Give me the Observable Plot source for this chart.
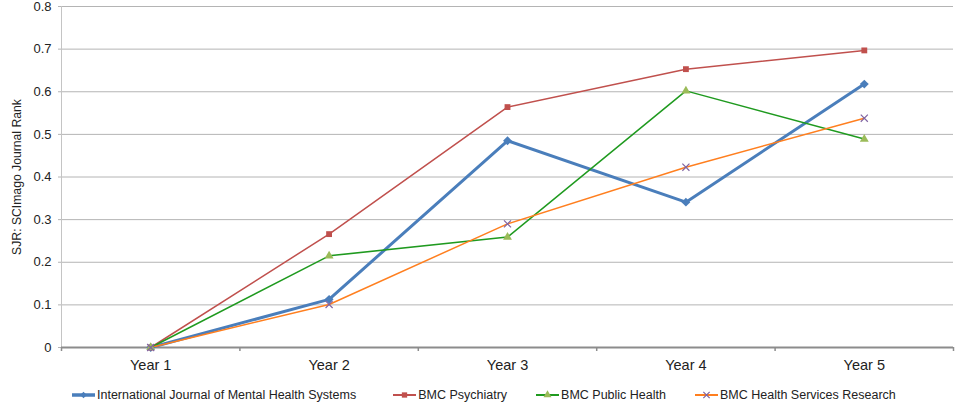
<!DOCTYPE html>
<html>
<head>
<meta charset="utf-8">
<script src="https://cdn.jsdelivr.net/npm/d3@7"></script>
<script src="https://cdn.jsdelivr.net/npm/@observablehq/plot@0.6"></script>
<style>
  html, body { margin: 0; padding: 0; background: #fff; }
  body { width: 960px; height: 411px; overflow: hidden; font-family: "Liberation Sans", Arial, sans-serif; }
  #legend { display: flex; align-items: center; gap: 29px; padding-left: 72px; height: 26px; margin-top: 0px; font-size: 12.5px; color: #222; }
  #legend .item { display: flex; align-items: center; white-space: nowrap; }
  #legend .item:first-child { margin-right: 8px; }
  #legend svg { margin-right: 2px; }
</style>
</head>
<body>
<div id="chart"></div>
<div id="legend"></div>
<script>
const categories = ["Year 1", "Year 2", "Year 3", "Year 4", "Year 5"];
const seriesNames = [
  "International Journal of Mental Health Systems",
  "BMC Psychiatry",
  "BMC Public Health",
  "BMC Health Services Research"
];
const ijmhs = [0, 0.113, 0.485, 0.341, 0.618];
const bmcPsychiatry = [0, 0.266, 0.564, 0.653, 0.697];
const bmcPublicHealth = [0, 0.215, 0.259, 0.602, 0.489];
const bmcHealthServices = [0, 0.101, 0.290, 0.423, 0.538];
const yTicks = [0, 0.1, 0.2, 0.3, 0.4, 0.5, 0.6, 0.7, 0.8];
const yLabel = "SJR: SCImago Journal Rank";

const seriesValues = [ijmhs, bmcPsychiatry, bmcPublicHealth, bmcHealthServices];
const lineColors = ["#4a7ebb", "#c0504d", "#1f9a1f", "#ff7f1f"];
const markerColors = ["#4a7ebb", "#c0504d", "#9bbb59", "#8064a2"];
const lineWidths = [3, 1.5, 1.5, 1.5];
const symbols = ["diamond2", "square", "triangle", "times"];

const catIndex = categories.map((c, i) => i + 1);
const boundaries = d3.range(0.5, categories.length + 1, 1);

const marks = [
  Plot.ruleY(yTicks.filter(d => d > 0), {stroke: "#b4b4b4", strokeWidth: 1}),
  Plot.ruleX([0.5], {stroke: "#c4c4c4", strokeWidth: 1}),
  Plot.axisY({ticks: yTicks, tickFormat: d => d === 0 ? "0" : d.toFixed(1), tickSize: 3, tickPadding: 7,
    stroke: "#b4b4b4", fontSize: 13, color: "#222", label: null}),
  Plot.axisY({ticks: [], fontSize: 12.2, color: "#222",
    label: yLabel, labelAnchor: "center", labelArrow: "none", labelOffset: 49}),
  Plot.ruleY([0], {stroke: "#8c8c8c", strokeWidth: 2}),
  Plot.axisX({ticks: boundaries, tickFormat: () => "", tickSize: 4, stroke: "#8c8c8c", strokeWidth: 1.5, label: null}),
  Plot.axisX({ticks: catIndex, tickFormat: i => categories[i - 1], tickSize: 0, tickPadding: 12, fontSize: 14.5, label: null})
];

seriesValues.forEach((vals, s) => {
  const rows = vals.map((v, i) => ({x: i + 1, y: v}));
  marks.push(Plot.line(rows, {x: "x", y: "y", stroke: lineColors[s], strokeWidth: lineWidths[s]}));
});
seriesValues.forEach((vals, s) => {
  const rows = vals.map((v, i) => ({x: i + 1, y: v}));
  const isStroke = symbols[s] === "times";
  marks.push(Plot.dot(rows, {
    x: "x", y: "y", symbol: () => symbols[s], r: s === 0 ? 4 : 3.3,
    fill: isStroke ? "none" : markerColors[s],
    stroke: isStroke ? markerColors[s] : "none",
    strokeWidth: isStroke ? 1.2 : 0
  }));
});

const chart = Plot.plot({
  width: 960,
  height: 382,
  marginLeft: 61,
  marginRight: 7,
  marginTop: 6,
  marginBottom: 35,
  style: {fontFamily: "'Liberation Sans', Arial, sans-serif", fontSize: "13px", color: "#222", background: "#fff"},
  x: {type: "linear", domain: [0.5, categories.length + 0.5], axis: null},
  y: {domain: [0, 0.8], axis: null},
  symbol: {type: "identity"},
  marks
});
document.getElementById("chart").appendChild(chart);

const legend = document.getElementById("legend");
seriesNames.forEach((name, s) => {
  const item = document.createElement("div");
  item.className = "item";
  const sw = d3.create("svg").attr("width", 23).attr("height", 10);
  sw.append("line").attr("x1", 0).attr("x2", 23).attr("y1", 5).attr("y2", 5)
    .attr("stroke", lineColors[s]).attr("stroke-width", lineWidths[s] + 0.5);
  const sym = {diamond2: d3.symbolDiamond2, square: d3.symbolSquare, triangle: d3.symbolTriangle, times: d3.symbolTimes}[symbols[s]];
  const isStroke = symbols[s] === "times";
  sw.append("path").attr("d", d3.symbol(sym, 28)()).attr("transform", "translate(11.5,5)")
    .attr("fill", isStroke ? "none" : markerColors[s])
    .attr("stroke", isStroke ? markerColors[s] : "none").attr("stroke-width", 1.2);
  item.appendChild(sw.node());
  const t = document.createElement("span");
  t.textContent = name;
  item.appendChild(t);
  legend.appendChild(item);
});
</script>
</body>
</html>
